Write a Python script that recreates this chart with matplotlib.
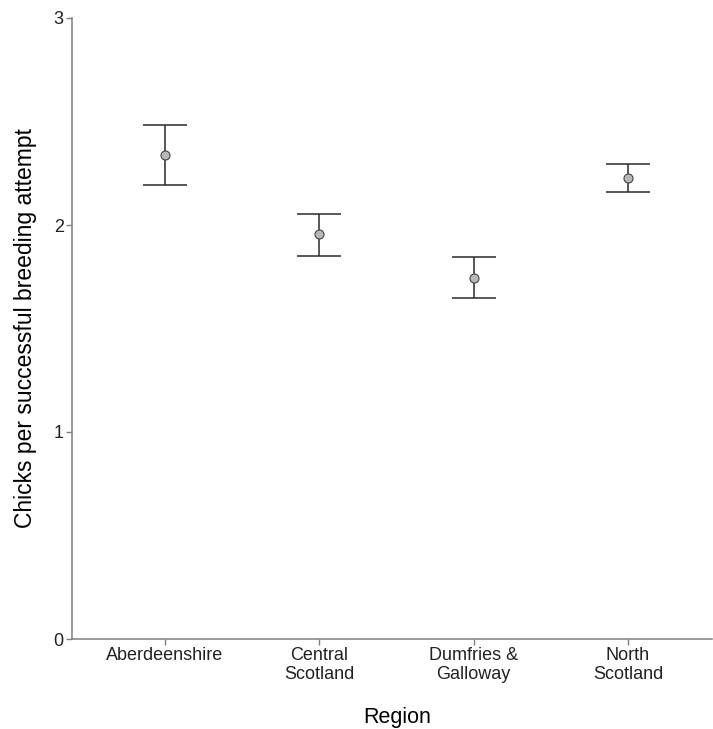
import matplotlib.pyplot as plt

regions = ["Aberdeenshire", "Central\nScotland", "Dumfries &\nGalloway", "North\nScotland"]
means = [2.34, 1.955, 1.745, 2.225]
lower = [2.195, 1.85, 1.647, 2.158]
upper = [2.485, 2.055, 1.843, 2.295]

plt.rcParams['font.family'] = ['Liberation Sans', 'DejaVu Sans']

fig = plt.figure(figsize=(7.13, 7.29), dpi=100)
ax = fig.add_axes([72 / 713, 90 / 729, 640 / 713, 621 / 729])

x = list(range(1, len(regions) + 1))
yerr = [[m - l for m, l in zip(means, lower)], [u - m for m, u in zip(means, upper)]]
ax.errorbar(x, means, yerr=yerr, fmt="none", ecolor="#2a2a2a", elinewidth=1.1,
            capsize=15.5, capthick=1.1, zorder=2)
ax.plot(x, means, "o", markersize=6.5, markerfacecolor="#b8b8b8",
        markeredgecolor="#444444", markeredgewidth=0.8, zorder=3)

ax.set_xlim(0.397, 4.544)
ax.set_ylim(0, 3)
ax.set_xticks(x)
ax.set_xticklabels(regions, linespacing=1.15)
ax.set_yticks([0, 1, 2, 3])

for s in ["top", "right"]:
    ax.spines[s].set_visible(False)
for s in ["left", "bottom"]:
    ax.spines[s].set_color("#7f7f7f")
    ax.spines[s].set_linewidth(1.1)

ax.tick_params(axis="both", colors="#7f7f7f", length=4, width=1, labelsize=13,
               labelcolor="#222222", pad=2)
ax.set_xlabel("Region", fontsize=15.5, color="black")
ax.xaxis.set_label_coords(0.508, -0.11)
ax.set_ylabel("Chicks per successful breeding attempt", fontsize=16.5, color="black", labelpad=12)

fig.savefig("out.png", dpi=100)
